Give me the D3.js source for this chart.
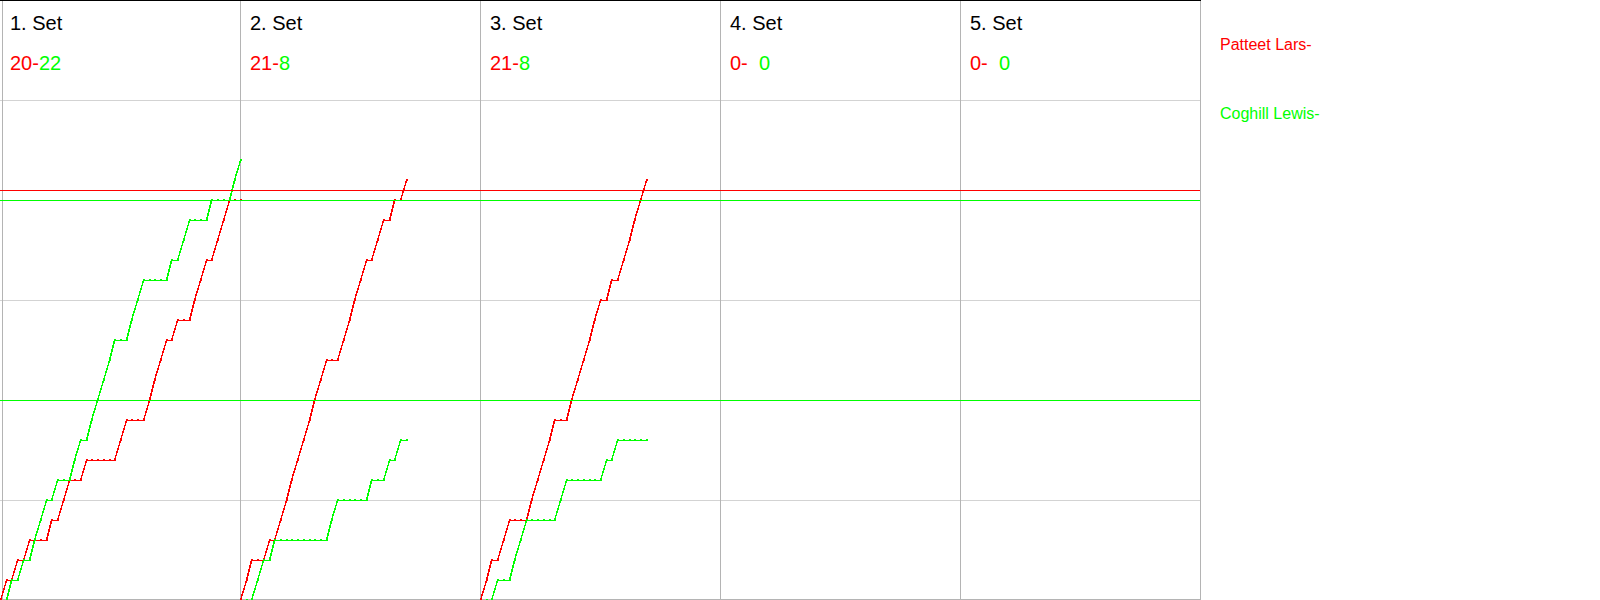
<!DOCTYPE html>
<html><head><meta charset="utf-8">
<script src="https://cdn.jsdelivr.net/npm/d3@7"></script>
<style>
body{margin:0;background:#fff;}
svg{display:block;font-family:"Liberation Sans",Arial,sans-serif;}
</style>
</head><body><svg id="c" width="1600" height="600"></svg>
<script>
// ---- data ----
const sets = ["1. Set", "2. Set", "3. Set", "4. Set", "5. Set"];
const players = ["Patteet Lars-", "Coghill Lewis-"];
const playerColors = ["#ff0000", "#00ff00"];
// rally winners per set, in order: "P" = Patteet Lars, "C" = Coghill Lewis
const set1Winners = ["P","C","P","C","P","C","C","C","P","C","P","P","C","C","P","C","C","C","C","C","P","P","C","C","C","P","P","P","P","C","P","C","C","P","P","P","C","P","P","P","C","C"];
const set2Winners = ["P","P","C","C","P","C","P","P","P","P","P","P","P","P","P","C","C","P","P","P","P","P","C","P","P","C","P","C","P"];
const set3Winners = ["P","P","C","P","P","C","C","C","P","P","P","P","P","C","C","P","P","P","P","P","P","C","P","C","P","P","P","P","P"];
const set4Winners = [];
const set5Winners = [];
const patteetScoreText = ["20-", "21-", "21-", "0-", "0-"];
const coghillScoreText = ["22", "8", "8", "  0", "  0"];
const patteetRefLines = [20.5];
const coghillRefLines = [20, 10];
const scoreGrid = [5, 10, 15, 20, 25];
const maxRallies = 42;
const maxScore = 25;

// ---- layout ----
const svg = d3.select("#c");
const plotW = 1200, plotTop = 100, plotBottom = 600;
const xSet = d3.scaleBand().domain(sets).range([0, plotW]);
const xRally = d3.scaleLinear().domain([0, maxRallies]).range([0, xSet.bandwidth()]);
const y = d3.scaleLinear().domain([0, maxScore]).range([plotBottom, plotTop]);
const allWinners = [set1Winners, set2Winners, set3Winners, set4Winners, set5Winners];

// horizontal grid
svg.append("g").selectAll("line").data(scoreGrid).join("line")
  .attr("x1", 0).attr("x2", plotW)
  .attr("y1", d => Math.round(y(d)) + 0.5).attr("y2", d => Math.round(y(d)) + 0.5)
  .attr("stroke", "#d3d3d3").attr("stroke-width", 1).attr("shape-rendering", "crispEdges");
// bottom border
svg.append("line").attr("x1", 2).attr("x2", plotW).attr("y1", y(0) - 0.5).attr("y2", y(0) - 0.5)
  .attr("stroke", "#b4b4b4").attr("shape-rendering", "crispEdges");
// vertical dividers
const vx = sets.map(s => xSet(s)).concat([plotW]);
vx[0] = 2;
svg.append("g").selectAll("line").data(vx).join("line")
  .attr("x1", d => d + 0.5).attr("x2", d => d + 0.5).attr("y1", 0).attr("y2", 600)
  .attr("stroke", "#b4b4b4").attr("shape-rendering", "crispEdges");
// top border
svg.append("line").attr("x1", 0).attr("x2", plotW + 1).attr("y1", 0.5).attr("y2", 0.5)
  .attr("stroke", "#000").attr("shape-rendering", "crispEdges");

// headers
const hdr = svg.append("g").selectAll("g").data(sets).join("g")
  .attr("transform", d => `translate(${xSet(d) + 10},0)`);
hdr.append("text").attr("y", 30).attr("font-size", 20).attr("fill", "#000").text(d => d);
const sc = hdr.append("text").attr("y", 70).attr("font-size", 20).style("white-space", "pre");
sc.append("tspan").attr("fill", playerColors[0]).text((d, i) => patteetScoreText[i]);
sc.append("tspan").attr("fill", playerColors[1]).text((d, i) => coghillScoreText[i]);

// score progressions
const lineGen = d3.line().x(d => d.x).y(d => d.y);
allWinners.forEach((w, si) => {
  if (!w.length) return;
  const x0 = xSet(sets[si]);
  let p = 0, c = 0;
  const pts = [{ i: 0, p: 0, c: 0 }];
  w.forEach((win, k) => { if (win === "P") p++; else c++; pts.push({ i: k + 1, p, c }); });
  ["p", "c"].forEach((key, pi) => {
    const coords = pts.map(d => ({ x: Math.round(x0 + xRally(d.i)) + 0.5, y: Math.round(y(d[key])) + 0.5 }));
    svg.append("path").attr("d", lineGen(coords)).attr("fill", "none")
      .attr("stroke", playerColors[pi]).attr("stroke-width", 1.5).attr("shape-rendering", "crispEdges");
    svg.append("g").selectAll("rect").data(coords.slice(1)).join("rect")
      .attr("x", d => d.x - 1).attr("y", d => d.y - 1.5).attr("width", 2).attr("height", 2)
      .attr("fill", playerColors[pi]).attr("shape-rendering", "crispEdges");
  });
});

// reference lines
svg.append("g").selectAll("line").data(patteetRefLines).join("line")
  .attr("x1", 0).attr("x2", plotW).attr("y1", d => Math.round(y(d)) + 0.5).attr("y2", d => Math.round(y(d)) + 0.5)
  .attr("stroke", playerColors[0]).attr("shape-rendering", "crispEdges");
svg.append("g").selectAll("line").data(coghillRefLines).join("line")
  .attr("x1", 0).attr("x2", plotW).attr("y1", d => Math.round(y(d)) + 0.5).attr("y2", d => Math.round(y(d)) + 0.5)
  .attr("stroke", playerColors[1]).attr("shape-rendering", "crispEdges");

// legend
svg.append("g").selectAll("text").data(players).join("text")
  .attr("x", plotW + 20).attr("y", (d, i) => [50, 119][i]).attr("font-size", 16)
  .attr("fill", (d, i) => playerColors[i]).text(d => d);
</script>
</body></html>
